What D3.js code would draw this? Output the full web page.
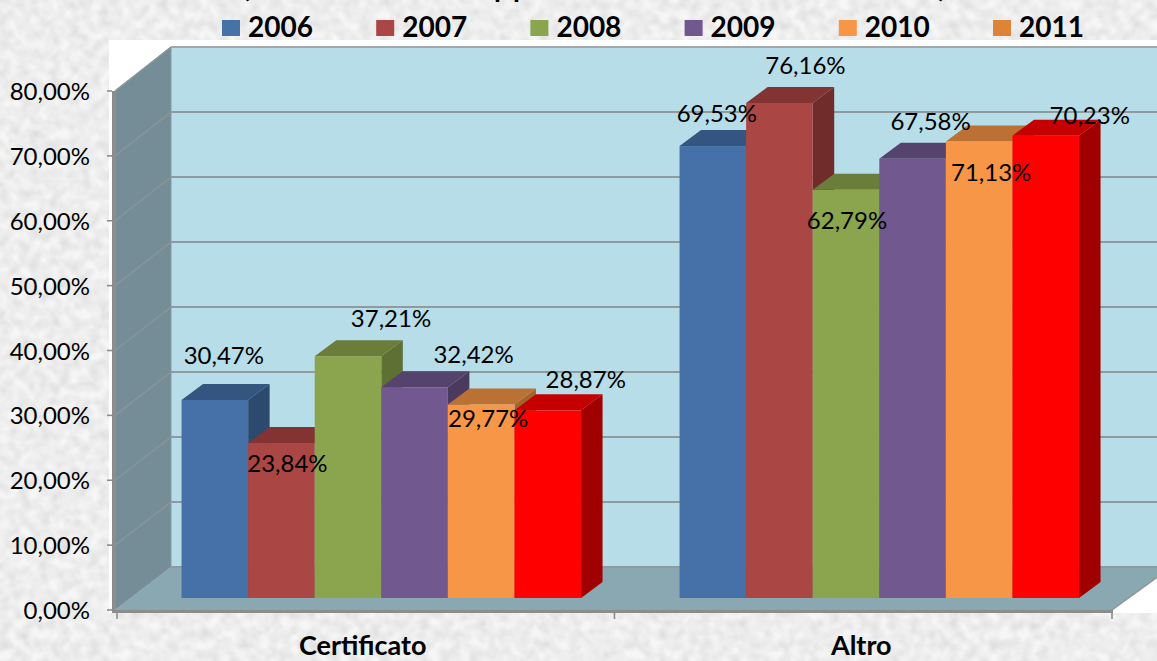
<!DOCTYPE html>
<html><head><meta charset="utf-8">
<style>html,body{margin:0;padding:0;background:#e8e8e8;overflow:hidden}svg{display:block}text{font-family:Lato,"Open Sans",sans-serif;fill:#000}</style>
<script src="https://cdn.jsdelivr.net/npm/d3@7/dist/d3.min.js"></script>
</head><body><script>
const categories = ["Certificato", "Altro"];
const years = ["2006", "2007", "2008", "2009", "2010", "2011"];
const certificato = [30.47, 23.84, 37.21, 32.42, 29.77, 28.87];
const altro = [69.53, 76.16, 62.79, 67.58, 70.23, 71.13];
// Labels as printed in the picture (the last two of "Altro" are swapped there)
const certificatoLabels = ["30,47%", "23,84%", "37,21%", "32,42%", "29,77%", "28,87%"];
const altroLabels = ["69,53%", "76,16%", "62,79%", "67,58%", "71,13%", "70,23%"];
const yTicks = [0, 10, 20, 30, 40, 50, 60, 70, 80];
const legendColors = ["#4572a7", "#aa4643", "#89a54e", "#71588f", "#f79646", "#dd8439"];
const frontColors = ["#4571a8", "#aa4643", "#8ba44e", "#71588f", "#f79646", "#ff0000"];
const topColors = ["#33557f", "#833432", "#6a7d3b", "#56436d", "#bb7133", "#c40000"];
const sideColors = ["#2c4a6e", "#6f2c2a", "#5f7035", "#4a3a5e", "#a5632c", "#a00000"];
// Hand-placed label nudges (px) from the centre-top of each bar
const certificatoNudge = [[9,-36],[6,29],[43,-29],[59,-24],[7,23],[38,-22]];
const altroNudge = [[4,-24],[26,-29],[1,39],[18,-29],[12,39],[44,-12]];

const W = 1157, H = 661;
const svg = d3.select("body").append("svg").attr("width", W).attr("height", H);
const defs = svg.append("defs");
const f = defs.append("filter").attr("id","paper").attr("x",0).attr("y",0).attr("width","100%").attr("height","100%");
f.append("feTurbulence").attr("type","fractalNoise").attr("baseFrequency",0.1).attr("numOctaves",3).attr("seed",7);
f.append("feGaussianBlur").attr("stdDeviation",0.8);
f.append("feColorMatrix").attr("type","matrix").attr("values","0 0 0 0 0.55  0 0 0 0 0.55  0 0 0 0 0.55  0.9 0 0 0 -0.25");
f.append("feComposite").attr("in2","SourceGraphic").attr("operator","over");
svg.append("rect").attr("width",W).attr("height",H).attr("fill","#f6f6f6").attr("filter","url(#paper)");

// scales: front plane, back wall, bar plane
const yFront = d3.scaleLinear().domain([0,80]).range([610,91]);
const yBack = d3.scaleLinear().domain([0,80]).range([567,47]);
const yBar = d3.scaleLinear().domain([0,80]).range([598,78]);
const xAxisBand = d3.scaleBand().domain(categories).range([117,1112]);
const xCat = d3.scaleBand().domain(categories).range([132.3,1128.3]);
const xSeries = d3.scaleBand().domain(years).range([0,399.5]);
const catPad = (xCat.bandwidth()-399.5)/2;
const wallDx = 56, depthDx = 21.5, depthDy = 16;
const x0 = 115, xB = x0+wallDx;

// white chart area
svg.append("rect").attr("x",109).attr("y",40).attr("width",W-109).attr("height",573).attr("fill","#fff");
// back wall
svg.append("rect").attr("x",xB).attr("y",yBack(80)).attr("width",W-xB).attr("height",yBack(0)-yBack(80)).attr("fill","#b7dde8");
// side wall
svg.append("polygon").attr("points",[[x0,yFront(80)],[xB,yBack(80)],[xB,yBack(0)],[x0,yFront(0)]].join(" ")).attr("fill","#748d96").attr("stroke","#8b9a9f").attr("stroke-width",1);
// floor
const xR = 1112;
svg.append("polygon").attr("points",[[x0,yFront(0)],[xB,yBack(0)],[xR+wallDx+3,yBack(0)],[xR,yFront(0)]].join(" ")).attr("fill","#8aa8b1");
// gridlines
const gridG = svg.append("g");
gridG.selectAll("line.h").data(yTicks).join("line").attr("class","h")
  .attr("x1",xB).attr("x2",W).attr("y1",d=>yBack(d)).attr("y2",d=>yBack(d))
  .attr("stroke",d=>d===80?"#a3a7a9":"#8f9a9e").attr("stroke-width",2);
gridG.selectAll("line.d").data(yTicks.filter(d=>d>0&&d<80)).join("line").attr("class","d")
  .attr("x1",x0).attr("x2",xB).attr("y1",d=>yFront(d)).attr("y2",d=>yBack(d))
  .attr("stroke","#8b9699").attr("stroke-width",1.3);
// top slope of side wall and right floor edge
svg.append("line").attr("x1",x0).attr("y1",yFront(80)).attr("x2",xB).attr("y2",yBack(80)).attr("stroke","#8b9699").attr("stroke-width",1.5);
svg.append("line").attr("x1",xR).attr("y1",yFront(0)).attr("x2",xR+wallDx+3).attr("y2",yBack(0)).attr("stroke","#8b9699").attr("stroke-width",1.5);
// front axes
svg.append("rect").attr("x",112).attr("y",yFront(80)).attr("width",3).attr("height",yFront(0)-yFront(80)+2).attr("fill","#8c8c8c");
svg.append("rect").attr("x",112).attr("y",yFront(0)).attr("width",xR-112+1).attr("height",3).attr("fill","#8c8c8c");
svg.selectAll("line.yt").data(yTicks).join("line").attr("class","yt")
  .attr("x1",107).attr("x2",112).attr("y1",d=>yFront(d)).attr("y2",d=>yFront(d)).attr("stroke","#8c8c8c").attr("stroke-width",1.6);
const xTickPos = [...categories.map(c=>xAxisBand(c)), 1112];
svg.selectAll("line.xt").data(xTickPos).join("line").attr("class","xt")
  .attr("x1",d=>d).attr("x2",d=>d).attr("y1",612).attr("y2",619).attr("stroke","#8c8c8c").attr("stroke-width",1.6);

// bars
const rows = [certificato, altro], labelRows = [certificatoLabels, altroLabels], nudgeRows = [certificatoNudge, altroNudge];
categories.forEach((c,ci)=>{
  const g = svg.append("g").attr("transform",`translate(${xCat(c)+catPad},0)`);
  const bw = xSeries.bandwidth();
  years.forEach((yr,i)=>{
    const x = xSeries(yr), v = rows[ci][i], t = yBar(v), b = yBar(0);
    g.append("polygon").attr("points",[[x+bw,t],[x+bw+depthDx,t-depthDy],[x+bw+depthDx,b-depthDy],[x+bw,b]].join(" ")).attr("fill",sideColors[i]);
    g.append("polygon").attr("points",[[x,t],[x+depthDx,t-depthDy],[x+bw+depthDx,t-depthDy],[x+bw,t]].join(" ")).attr("fill",topColors[i]);
    g.append("rect").attr("x",x).attr("y",t).attr("width",bw).attr("height",b-t).attr("fill",frontColors[i]);
  });
});
// data labels
categories.forEach((c,ci)=>{
  years.forEach((yr,i)=>{
    const n = nudgeRows[ci][i];
    svg.append("text").attr("x",xCat(c)+catPad+xSeries(yr)+xSeries.bandwidth()/2+n[0]).attr("y",yBar(rows[ci][i])+n[1])
      .attr("text-anchor","middle").attr("font-size",24).text(labelRows[ci][i]);
  });
});
// y tick labels
svg.selectAll("text.yl").data(yTicks).join("text").attr("class","yl")
  .attr("x",90).attr("y",d=>yFront(d)+9).attr("text-anchor","end").attr("font-size",24)
  .text(d=>d3.format(".2f")(d).replace(".",",")+"%");
// category labels
svg.selectAll("text.cat").data(categories).join("text").attr("class","cat")
  .attr("x",(d,i)=>xAxisBand(d)+xAxisBand.bandwidth()/2-(i?2:3)).attr("y",655).attr("text-anchor","middle")
  .attr("font-size",27).attr("font-weight",700).text(d=>d);
// legend
const legendX = d3.scaleLinear().domain([0,5]).range([222,993]);
const lg = svg.selectAll("g.lg").data(years).join("g").attr("class","lg").attr("transform",(d,i)=>`translate(${legendX(i)},0)`);
lg.append("rect").attr("x",0).attr("y",20).attr("width",18).attr("height",16).attr("fill",(d,i)=>legendColors[i]);
lg.append("text").attr("x",26).attr("y",37).attr("font-size",28).attr("font-weight",700).text(d=>d);
// top line of title, cut off by the picture edge: only descenders remain
[["(",246,0],["pp",513,3],[")",942,0]].forEach(([s,x,ls])=>{
  svg.append("text").attr("x",x).attr("y",-3).attr("text-anchor","middle").attr("font-size",28).attr("font-weight",700).attr("letter-spacing",ls).text(s);
});
</script></body></html>
